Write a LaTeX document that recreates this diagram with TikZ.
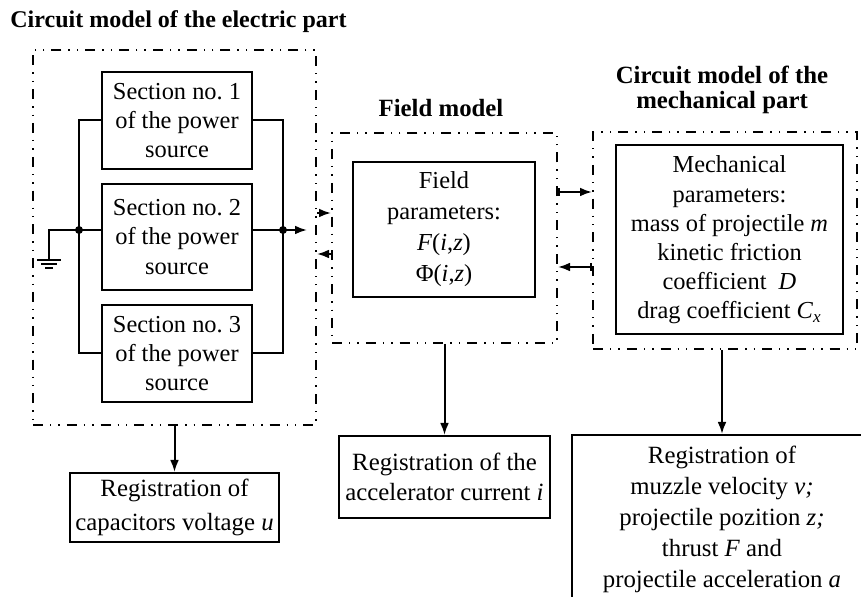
\documentclass[tikz,border=0pt]{standalone}
\usepackage{fontspec}
\setmainfont{Liberation Serif}
\usetikzlibrary{arrows.meta,positioning}

\begin{document}
\begin{tikzpicture}[
  x=0.5pt,y=-0.5pt,
  box/.style={draw,line width=1pt,align=center,inner sep=1pt,
              font=\fontsize{12.2}{14.6}\selectfont},
  frame/.style={draw,line width=1pt,inner sep=0pt,
                dash pattern=on 5pt off 3.5pt on 0.7pt off 3.5pt on 0.7pt off 3.5pt},
  title/.style={font=\bfseries\fontsize{12.4}{12.6}\selectfont,align=center},
  wire/.style={line width=1pt},
  flow/.style={-{Latex[length=6pt,width=4.4pt]},line width=1pt},
  barflow/.style={{Bar[width=4pt]}-{Latex[length=6pt,width=4.4pt]},line width=1pt},
  jdot/.style={circle,fill,inner sep=0pt,minimum size=4pt}
]
\useasboundingbox (0,0) rectangle (861,597);
\clip (0,0) rectangle (861,597);

% dash-dot frames
\node[frame,minimum width=141.5pt,minimum height=187.5pt] (elframe) at (174.5,237.5) {};
\node[frame,minimum width=112.5pt,minimum height=105pt] (fieldframe) at (444.5,238) {};
\node[frame,minimum width=132pt,minimum height=108.5pt] (mechframe) at (725,241) {};

\node[title,anchor=base west,inner sep=0pt,font=\bfseries\fontsize{12}{12.6}\selectfont]
  at (10,28) {Circuit model of the electric part};
\node[title,anchor=base] at (441,117) {Field model};
\node[title] at (722,90) {Circuit model of the\\mechanical part};

% power source sections
\foreach \k/\y/\h in {1/120.5/48.5pt,2/237/53pt,3/353.5/48.5pt}
  \node[box,minimum width=75pt,minimum height=\h] (sec\k) at (177,\y)
    {Section no.~\k\\of the power\\source};

\coordinate (jl) at (79,230);
\coordinate (jr) at (283,230);
\coordinate (gnd) at (49,260);
\coordinate (elout) at (307,230);

\draw[wire] (sec1.west) -| (jl) |- (sec3.west);
\draw[wire] (gnd) |- (jl) -- (jl -| sec2.west);
\draw[wire] (sec1.east) -| (jr) |- (sec3.east);
\draw[wire] (sec2.east |- jr) -- (jr);
\draw[flow] (jr) -- (elout);
\node[jdot] at (jl) {};
\node[jdot] at (jr) {};
\draw[wire] ([xshift=-6pt]gnd) -- ([xshift=6pt]gnd)
  ([xshift=-3.8pt,yshift=-2pt]gnd) -- ([xshift=3.8pt,yshift=-2pt]gnd)
  ([xshift=-2pt,yshift=-4pt]gnd) -- ([xshift=2pt,yshift=-4pt]gnd);

% parameter boxes
\node[box,minimum width=91pt,minimum height=67.5pt,
      font=\fontsize{12.2}{15.5}\selectfont] (fieldpar) at (444,229.5)
  {Field\\parameters:\\\textit{F}(\textit{i},\textit{z})\\Φ(\textit{i},\textit{z})};
\node[box,minimum width=113.5pt,minimum height=94.5pt] (mechpar) at (729.5,240)
  {Mechanical\\parameters:\\mass of projectile \textit{m}\\kinetic friction\\
   coefficient~ \textit{D}\\drag coefficient \textit{C}\textsubscript{\textit{x}}};

% registration boxes
\node[box,minimum width=104.5pt,minimum height=34.5pt,
      font=\fontsize{12.4}{17}\selectfont] (regu) at (174.5,507.5)
  {Registration of\\capacitors voltage \textit{u}};
\node[box,minimum width=105.5pt,minimum height=41pt,
      font=\fontsize{12.4}{15}\selectfont] (regi) at (444.5,477)
  {Registration of the\\accelerator current \textit{i}};
\node[box,minimum width=150pt,minimum height=84pt,
      font=\fontsize{12.4}{15.5}\selectfont] (regmotion) at (722,519)
  {Registration of\\muzzle velocity \textit{v;}\\projectile pozition \textit{z;}\\
   thrust \textit{F} and\\projectile acceleration \textit{a}};

% connections
\draw[flow] (elframe.east |- 0,213) -- (fieldframe.west |- 0,213);
\draw[flow] (fieldframe.west |- 0,254) -- (elframe.east |- 0,254);
\draw[barflow] (fieldframe.east |- 0,192) -- (mechframe.west |- 0,192);
\draw[barflow] (mechframe.west |- 0,267) -- (fieldframe.east |- 0,267);
\draw[flow] (elframe.south) -- (regu.north);
\draw[flow] (fieldframe.south) -- (regi.north);
\draw[flow] (regmotion.north |- mechframe.south) -- (regmotion.north);
\end{tikzpicture}
\end{document}
